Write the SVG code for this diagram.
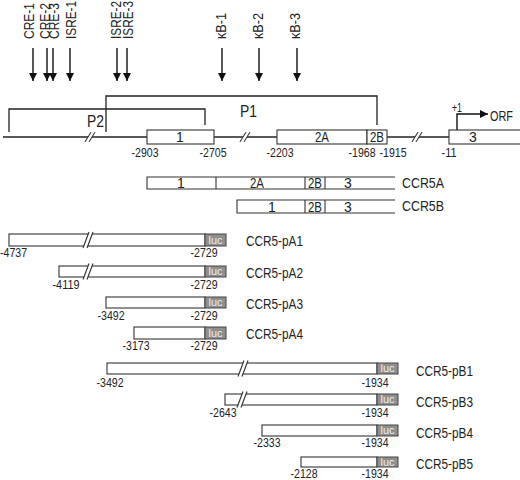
<svg xmlns="http://www.w3.org/2000/svg" xmlns:xlink="http://www.w3.org/1999/xlink" width="520" height="480" viewBox="0 0 520 480">
<defs>
<style>
text{font-family:"Liberation Sans",Arial,sans-serif;fill:#222}
.site{font-size:14.5px}
.pos{font-size:13px;text-anchor:middle}
.ex{font-size:14px;text-anchor:middle}
.lab{font-size:15px}
.pl{font-size:17px}
.ln{stroke:#222;stroke-width:1.3;fill:none}
.box{fill:#fff;stroke:#333;stroke-width:1.1}
.dv{stroke:#333;stroke-width:1.1}
.luc{fill:#8f8f8f;stroke:#444;stroke-width:1}
.luct{font-size:11px;text-anchor:middle;fill:#eee}
.arr{stroke:#111;stroke-width:1.4}
</style>
<marker id="ah" viewBox="0 0 10 10" refX="10" refY="5" markerWidth="8" markerHeight="8" markerUnits="userSpaceOnUse" orient="auto"><path d="M0,0 L10,5 L0,10 z" fill="#111"/></marker>
<g id="brk"><polygon points="-6,8 0,-8 4,-8 -2,8" fill="#fff"/><line x1="-6" y1="8" x2="0" y2="-8" stroke="#333" stroke-width="1.1"/><line x1="-2" y1="8" x2="4" y2="-8" stroke="#333" stroke-width="1.1"/></g>
</defs>
<rect width="520" height="480" fill="#fff"/>

<g id="sites">
<text class="site" transform="translate(34,39) rotate(-90)" textLength="36" lengthAdjust="spacingAndGlyphs">CRE-1</text>
<text class="site" transform="translate(50,39) rotate(-90)" textLength="36" lengthAdjust="spacingAndGlyphs">CRE-2</text>
<text class="site" transform="translate(59,39) rotate(-90)" textLength="36" lengthAdjust="spacingAndGlyphs">CRE-3</text>
<text class="site" transform="translate(76,39) rotate(-90)" textLength="38" lengthAdjust="spacingAndGlyphs">ISRE-1</text>
<text class="site" transform="translate(121,39) rotate(-90)" textLength="38" lengthAdjust="spacingAndGlyphs">ISRE-2</text>
<text class="site" transform="translate(133,39) rotate(-90)" textLength="38" lengthAdjust="spacingAndGlyphs">ISRE-3</text>
<text class="site" transform="translate(226,39) rotate(-90)" textLength="26" lengthAdjust="spacingAndGlyphs">κB-1</text>
<text class="site" transform="translate(263,39) rotate(-90)" textLength="26" lengthAdjust="spacingAndGlyphs">κB-2</text>
<text class="site" transform="translate(300,39) rotate(-90)" textLength="26" lengthAdjust="spacingAndGlyphs">κB-3</text>
</g>
<g id="connectors">
<line class="arr" x1="33" y1="48" x2="33" y2="81" marker-end="url(#ah)"/>
<line class="arr" x1="47" y1="48" x2="47" y2="81" marker-end="url(#ah)"/>
<line class="arr" x1="53" y1="48" x2="53" y2="81" marker-end="url(#ah)"/>
<line class="arr" x1="70" y1="48" x2="70" y2="81" marker-end="url(#ah)"/>
<line class="arr" x1="117" y1="48" x2="117" y2="81" marker-end="url(#ah)"/>
<line class="arr" x1="127" y1="48" x2="127" y2="81" marker-end="url(#ah)"/>
<line class="arr" x1="222" y1="48" x2="222" y2="81" marker-end="url(#ah)"/>
<line class="arr" x1="259" y1="48" x2="259" y2="81" marker-end="url(#ah)"/>
<line class="arr" x1="297" y1="48" x2="297" y2="81" marker-end="url(#ah)"/>
<path class="arr" d="M457,130 V114 H488" fill="none" marker-end="url(#ah)"/>
</g>

<g id="P1">
<path class="ln" d="M106,132 V96 H377 V125"/>
<text class="pl" x="240" y="117" textLength="17" lengthAdjust="spacingAndGlyphs">P1</text>
</g>
<g id="P2">
<path class="ln" d="M9,132 V109 H205 V125"/>
<text class="pl" x="87" y="127" textLength="17" lengthAdjust="spacingAndGlyphs">P2</text>
</g>

<g id="gene">
<line class="ln" x1="3" y1="137" x2="520" y2="137" stroke-width="1.2"/>
<use xlink:href="#brk" transform="translate(91,137) scale(1,0.6)"/>
<use xlink:href="#brk" transform="translate(246,137) scale(1,0.6)"/>
<use xlink:href="#brk" transform="translate(418,137) scale(1,0.6)"/>
<rect class="box" x="147" y="130" width="67" height="14"/>
<text class="ex" x="180" y="142">1</text>
<rect class="box" x="277" y="130" width="90" height="14"/>
<text class="ex" x="322" y="142" textLength="14" lengthAdjust="spacingAndGlyphs">2A</text>
<rect class="box" x="367" y="130" width="20" height="14"/>
<text class="ex" x="377" y="142" textLength="14" lengthAdjust="spacingAndGlyphs">2B</text>
<rect class="box" x="449" y="130" width="80" height="14"/>
<text class="ex" x="473" y="142">3</text>
<text class="pos" x="145" y="157" textLength="27" lengthAdjust="spacingAndGlyphs">-2903</text>
<text class="pos" x="213" y="157" textLength="27" lengthAdjust="spacingAndGlyphs">-2705</text>
<text class="pos" x="280" y="157" textLength="27" lengthAdjust="spacingAndGlyphs">-2203</text>
<text class="pos" x="362" y="157" textLength="27" lengthAdjust="spacingAndGlyphs">-1968</text>
<text class="pos" x="393" y="157" textLength="27" lengthAdjust="spacingAndGlyphs">-1915</text>
<text class="pos" x="449" y="157" textLength="15" lengthAdjust="spacingAndGlyphs">-11</text>
<text x="452" y="112" font-size="12" textLength="10" lengthAdjust="spacingAndGlyphs">+1</text>
<text x="490" y="121" font-size="14" textLength="23" lengthAdjust="spacingAndGlyphs">ORF</text>
</g>

<g id="CCR5A">
<path class="box" d="M395,177 H147 V189 H395"/>
<line class="dv" x1="216" y1="177" x2="216" y2="189"/>
<line class="dv" x1="305" y1="177" x2="305" y2="189"/>
<line class="dv" x1="325" y1="177" x2="325" y2="189"/>
<text class="ex" x="181" y="188">1</text>
<text class="ex" x="257" y="188" textLength="14" lengthAdjust="spacingAndGlyphs">2A</text>
<text class="ex" x="315" y="188" textLength="14" lengthAdjust="spacingAndGlyphs">2B</text>
<text class="ex" x="348" y="188">3</text>
<text class="lab" x="402" y="188" textLength="42" lengthAdjust="spacingAndGlyphs">CCR5A</text>
</g>
<g id="CCR5B">
<path class="box" d="M395,200 H237 V213 H395"/>
<line class="dv" x1="305" y1="200" x2="305" y2="213"/>
<line class="dv" x1="325" y1="200" x2="325" y2="213"/>
<text class="ex" x="272" y="212">1</text>
<text class="ex" x="315" y="212" textLength="14" lengthAdjust="spacingAndGlyphs">2B</text>
<text class="ex" x="348" y="212">3</text>
<text class="lab" x="402" y="211" textLength="42" lengthAdjust="spacingAndGlyphs">CCR5B</text>
</g>

<g id="CCR5-pA1">
<rect class="box" x="9" y="234" width="196" height="12"/>
<use xlink:href="#brk" transform="translate(89,240)"/>
<rect class="luc" x="205" y="234" width="21" height="12"/>
<text class="luct" x="215.5" y="243.5" textLength="14" lengthAdjust="spacingAndGlyphs">luc</text>
<text class="pos" x="0" y="257" style="text-anchor:start" textLength="27" lengthAdjust="spacingAndGlyphs">-4737</text>
<text class="pos" x="204" y="257" textLength="27" lengthAdjust="spacingAndGlyphs">-2729</text>
<text class="lab" x="246" y="246" textLength="57" lengthAdjust="spacingAndGlyphs">CCR5-pA1</text>
</g>
<g id="CCR5-pA2">
<rect class="box" x="59" y="266" width="146" height="11"/>
<use xlink:href="#brk" transform="translate(89,271.5)"/>
<rect class="luc" x="205" y="266" width="21" height="11"/>
<text class="luct" x="215.5" y="275" textLength="14" lengthAdjust="spacingAndGlyphs">luc</text>
<text class="pos" x="66" y="289" textLength="27" lengthAdjust="spacingAndGlyphs">-4119</text>
<text class="pos" x="204" y="289" textLength="27" lengthAdjust="spacingAndGlyphs">-2729</text>
<text class="lab" x="246" y="278" textLength="57" lengthAdjust="spacingAndGlyphs">CCR5-pA2</text>
</g>
<g id="CCR5-pA3">
<rect class="box" x="106" y="297" width="99" height="11"/>
<rect class="luc" x="205" y="297" width="21" height="11"/>
<text class="luct" x="215.5" y="306" textLength="14" lengthAdjust="spacingAndGlyphs">luc</text>
<text class="pos" x="111" y="320" textLength="27" lengthAdjust="spacingAndGlyphs">-3492</text>
<text class="pos" x="204" y="320" textLength="27" lengthAdjust="spacingAndGlyphs">-2729</text>
<text class="lab" x="246" y="309" textLength="57" lengthAdjust="spacingAndGlyphs">CCR5-pA3</text>
</g>
<g id="CCR5-pA4">
<rect class="box" x="134" y="327" width="71" height="12"/>
<rect class="luc" x="205" y="327" width="21" height="12"/>
<text class="luct" x="215.5" y="336.5" textLength="14" lengthAdjust="spacingAndGlyphs">luc</text>
<text class="pos" x="136" y="350" textLength="27" lengthAdjust="spacingAndGlyphs">-3173</text>
<text class="pos" x="204" y="350" textLength="27" lengthAdjust="spacingAndGlyphs">-2729</text>
<text class="lab" x="246" y="339" textLength="57" lengthAdjust="spacingAndGlyphs">CCR5-pA4</text>
</g>

<g id="CCR5-pB1">
<rect class="box" x="107" y="363" width="270" height="11"/>
<use xlink:href="#brk" transform="translate(244,368.5)"/>
<rect class="luc" x="377" y="363" width="21" height="11"/>
<text class="luct" x="387.5" y="372" textLength="14" lengthAdjust="spacingAndGlyphs">luc</text>
<text class="pos" x="110" y="387" textLength="27" lengthAdjust="spacingAndGlyphs">-3492</text>
<text class="pos" x="375" y="387" textLength="27" lengthAdjust="spacingAndGlyphs">-1934</text>
<text class="lab" x="416" y="376" textLength="57" lengthAdjust="spacingAndGlyphs">CCR5-pB1</text>
</g>
<g id="CCR5-pB3">
<rect class="box" x="225" y="394" width="152" height="11"/>
<use xlink:href="#brk" transform="translate(243,399.5)"/>
<rect class="luc" x="377" y="394" width="21" height="11"/>
<text class="luct" x="387.5" y="403" textLength="14" lengthAdjust="spacingAndGlyphs">luc</text>
<text class="pos" x="223" y="417" textLength="27" lengthAdjust="spacingAndGlyphs">-2643</text>
<text class="pos" x="375" y="417" textLength="27" lengthAdjust="spacingAndGlyphs">-1934</text>
<text class="lab" x="416" y="407" textLength="57" lengthAdjust="spacingAndGlyphs">CCR5-pB3</text>
</g>
<g id="CCR5-pB4">
<rect class="box" x="262" y="425" width="115" height="11"/>
<rect class="luc" x="377" y="425" width="21" height="11"/>
<text class="luct" x="387.5" y="434" textLength="14" lengthAdjust="spacingAndGlyphs">luc</text>
<text class="pos" x="267" y="447" textLength="27" lengthAdjust="spacingAndGlyphs">-2333</text>
<text class="pos" x="375" y="447" textLength="27" lengthAdjust="spacingAndGlyphs">-1934</text>
<text class="lab" x="416" y="438" textLength="57" lengthAdjust="spacingAndGlyphs">CCR5-pB4</text>
</g>
<g id="CCR5-pB5">
<rect class="box" x="301" y="457" width="76" height="10"/>
<rect class="luc" x="377" y="457" width="21" height="10"/>
<text class="luct" x="387.5" y="465.5" textLength="14" lengthAdjust="spacingAndGlyphs">luc</text>
<text class="pos" x="304" y="478" textLength="27" lengthAdjust="spacingAndGlyphs">-2128</text>
<text class="pos" x="375" y="478" textLength="27" lengthAdjust="spacingAndGlyphs">-1934</text>
<text class="lab" x="416" y="469" textLength="57" lengthAdjust="spacingAndGlyphs">CCR5-pB5</text>
</g>
</svg>
